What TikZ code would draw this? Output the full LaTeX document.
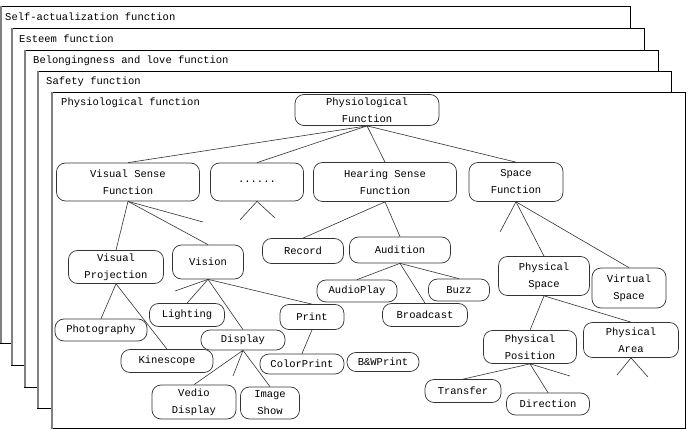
\documentclass[tikz,border=0pt]{standalone}
\usepackage{fontspec}
\setmainfont{Liberation Mono}
\usetikzlibrary{positioning}

\begin{document}
\begin{tikzpicture}[x=1pt,y=-1pt,
      every node/.style={font=\fontsize{10.5}{17}\selectfont},
      F/.style={draw=black!80,fill=white,rounded corners=9pt,align=center,inner sep=0pt,line width=0.7pt},
      sz/.style 2 args={minimum width=#1pt,minimum height=#2pt},
      L/.style={draw=black,fill=white,line width=0.7pt},
      lbl/.style={anchor=west,inner sep=0pt},
      lnk/.style={draw=black!80,line width=0.6pt},
    ]
  \useasboundingbox (0,0) rectangle (693,430);

  % the five levels, back to front
  \foreach \l/\t/\r/\b/\tx/\txt [count=\i] in {
      0/6/630/343/5/Self-actualization function,
      11/28/644/365/19/Esteem function,
      24/50/658/387/33/Belongingness and love function,
      37/71/671/408/46/Safety function,
      51/92/685/428.5/61/Physiological function}{
    \draw[L] (\l,\t) rectangle (\r,\b);
    \draw[gray,line width=1.5pt] (\l+0.75,\t) -- (\l+0.75,\b);
    \node[lbl] (lvl\i) at (\tx,\t+11) {\txt};
  }

  \node[F,sz={144}{31}] (pf) at (367,110) {Physiological\\Function};
  \node[F,sz={143}{38}] (vsf) at (128,182) {Visual Sense\\Function};
  \node[F,sz={93}{38}] (dots) at (257,182) {......};
  \node[F,sz={143}{39}] (hsf) at (385,182) {Hearing Sense\\Function};
  \node[F,sz={94}{39}] (sf) at (516,182) {Space\\Function};

  \node[F,sz={95}{33}] (vp) at (116,267) {Visual\\Projection};
  \node[F,sz={71}{34}] (vis) at (208,262) {Vision};
  \node[F,sz={81}{25}] (rec) at (303,251) {Record};
  \node[F,sz={101}{26}] (aud) at (400,250) {Audition};
  \node[F,sz={91}{39}] (ps) at (544,276) {Physical\\Space};
  \node[F,sz={74}{40}] (vs) at (629,288) {Virtual\\Space};

  \node[F,sz={80}{22}] (aplay) at (357,291) {AudioPlay};
  \node[F,sz={61}{22}] (buzz) at (459,290) {Buzz};
  \node[F,sz={85}{23}] (bcast) at (425,315) {Broadcast};
  \node[F,sz={92}{22}] (photo) at (101,330) {Photography};
  \node[F,sz={92}{23}] (kine) at (167,361) {Kinescope};
  \node[F,sz={75}{23}] (light) at (187,315) {Lighting};
  \node[F,sz={64}{25}] (print) at (312,317) {Print};
  \node[F,sz={84}{20}] (disp) at (243,340) {Display};
  \node[F,sz={84}{34}] (vd) at (194,402) {Vedio\\Display};
  \node[F,sz={59}{32}] (img) at (270,403) {Image\\Show};
  \node[F,sz={84}{20}] (cprint) at (302,364) {ColorPrint};
  \node[F,sz={72}{19}] (bwprint) at (383,362) {B\&WPrint};
  \node[F,sz={93}{33}] (ppos) at (530,347) {Physical\\Position};
  \node[F,sz={95}{35}] (parea) at (631,340) {Physical\\Area};
  \node[F,sz={76}{23}] (trans) at (463,391) {Transfer};
  \node[F,sz={83}{22}] (dir) at (548,404) {Direction};

  % open branches
  \coordinate (dl) at (240,220);
  \coordinate (dr) at (275,218);
  \coordinate (vsfx) at (203,222);
  \coordinate (sfx) at (500,232);
  \coordinate (pal) at (617,375);
  \coordinate (par) at (648,377);
  \coordinate (pposx) at (570,376);
  \coordinate (visx) at (175,291);
  \coordinate (dispx) at (233,376);

  \draw[lnk] (pf.south) -- (vsf.north);
  \draw[lnk] (pf.south) -- (dots.north);
  \draw[lnk] (pf.south) -- (hsf.north);
  \draw[lnk] (pf.south) -- (sf.north);
  \draw[lnk] (dots.south) -- (dl);
  \draw[lnk] (dots.south) -- (dr);

  \draw[lnk] (vsf.south) -- (vp.north);
  \draw[lnk] (vsf.south) -- (vsfx);
  \draw[lnk] (vsf.south) -- (vis.north);
  \draw[lnk] (hsf.south) -- (rec.north);
  \draw[lnk] (hsf.south) -- (aud.north);
  \draw[lnk] (sf.south) -- (sfx);
  \draw[lnk] (sf.south) -- (ps.north);
  \draw[lnk] (sf.south) -- (vs.north);

  \draw[lnk] (vp.south) -- (photo.north);
  \draw[lnk] (vp.south) -- (kine.north);
  \draw[lnk] (vis.south) -- (visx);
  \draw[lnk] (vis.south) -- (light.north);
  \draw[lnk] (vis.south) -- (disp.north);
  \draw[lnk] (vis.south) -- (print.north);
  \draw[lnk] (disp.south) -- (vd.north);
  \draw[lnk] (disp.south) -- (dispx);
  \draw[lnk] (disp.south) -- (img.north);
  \draw[lnk] (print.south) -- (cprint.north);

  \draw[lnk] (aud.south) -- (aplay.north);
  \draw[lnk] (aud.south) -- (buzz.north);
  \draw[lnk] (aud.south) -- (bcast.north);

  \draw[lnk] (ps.south) -- (ppos.north);
  \draw[lnk] (ps.south) -- (parea.north);
  \draw[lnk] (parea.south) -- (pal);
  \draw[lnk] (parea.south) -- (par);
  \draw[lnk] (ppos.south) -- (trans.north);
  \draw[lnk] (ppos.south) -- (dir.north);
  \draw[lnk] (ppos.south) -- (pposx);
\end{tikzpicture}
\end{document}
